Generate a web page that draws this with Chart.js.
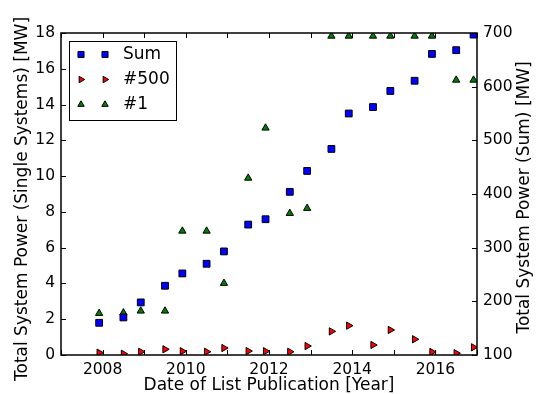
<!DOCTYPE html>
<html>
<head>
<meta charset="utf-8">
<script src="https://cdn.jsdelivr.net/npm/chart.js@4.4.0/dist/chart.umd.min.js"></script>
<style>
  body { margin: 0; background: #fff; }
  #wrap { width: 536px; height: 394px; }
</style>
</head>
<body>
<div id="wrap"><canvas id="powerChart" width="536" height="394"></canvas></div>
<script>
// ==========================================================================================================
// -- Data --
// ==========================================================================================================

// list dates: June = year + 0.5, November = year + 11/12
const listDates = [2007.917, 2008.5, 2008.917, 2009.5, 2009.917, 2010.5, 2010.917, 2011.5, 2011.917, 2012.5,
                   2012.917, 2013.5, 2013.917, 2014.5, 2014.917, 2015.5, 2015.917, 2016.5, 2016.917];
const sumPower = [160, 170, 198, 229, 252, 270, 293, 343, 353, 404, 443, 484, 550, 562, 592, 611, 661, 668, 697];
const rank500Power = [0.13, 0.07, 0.18, 0.32, 0.21, 0.18, 0.39, 0.22, 0.21, 0.18, 0.50, 1.32, 1.64, 0.56, 1.40, 0.88, 0.17, 0.10, 0.43];
const rank1Power = [2.33, 2.36, 2.46, 2.46, 6.93, 6.93, 4.01, 9.89, 12.69, 7.92, 8.20, 17.83, 17.83, 17.83, 17.83, 17.83, 17.83, 15.37, 15.37];

const yearLabels = [2008, 2010, 2012, 2014, 2016];
const leftTitle = 'Total System Power (Single Systems) [MW]';
const rightTitle = 'Total System Power (Sum) [MW]';
const xTitle = 'Date of List Publication [Year]';

const FONT = 'DejaVu Sans';
const TICK_SIZE = 15.5;
const TITLE_SIZE = 17;

// ==========================================================================================================
// -- Helpers --
// ==========================================================================================================

function toPoints(values) {
    return listDates.map((x, i) => ({ x: x, y: values[i] }));
}

// draw one marker for the legend (same look as the chart points)
function drawMarker(ctx, style, x, y, r, rotation) {
    ctx.beginPath();
    if (style === 'rect') {
        const s = r * Math.SQRT1_2;
        ctx.rect(x - s, y - s, 2 * s, 2 * s);
    } else {
        let rad = rotation * Math.PI / 180;
        ctx.moveTo(x + Math.sin(rad) * r, y - Math.cos(rad) * r);
        rad += 2 * Math.PI / 3;
        ctx.lineTo(x + Math.sin(rad) * r, y - Math.cos(rad) * r);
        rad += 2 * Math.PI / 3;
        ctx.lineTo(x + Math.sin(rad) * r, y - Math.cos(rad) * r);
        ctx.closePath();
    }
    ctx.fill();
    ctx.stroke();
}

// rotated (bottom-to-top) axis title
function drawVerticalTitle(ctx, text, x, y, size) {
    ctx.save();
    ctx.fillStyle = '#000';
    ctx.font = `${size}px "${FONT}"`;
    ctx.textAlign = 'center';
    ctx.textBaseline = 'middle';
    ctx.translate(x, y);
    ctx.rotate(-Math.PI / 2);
    ctx.fillText(text, 0, 0);
    ctx.restore();
}

// Frame, inward ticks, y titles, legend ---------------------------------------------------------
const axesDecor = {
    id: 'axesDecor',
    afterDatasetsDraw(chart) {
        const { ctx, chartArea: a, scales } = chart;
        const tick = 5;
        ctx.save();
        ctx.strokeStyle = '#000';
        ctx.lineWidth = 1;
        ctx.beginPath();
        scales.x.ticks.forEach(t => {
            const px = Math.round(scales.x.getPixelForValue(t.value)) + 0.5;
            ctx.moveTo(px, a.bottom); ctx.lineTo(px, a.bottom - tick);
            ctx.moveTo(px, a.top); ctx.lineTo(px, a.top + tick);
        });
        scales.yLeft.ticks.forEach(t => {
            const py = Math.round(scales.yLeft.getPixelForValue(t.value)) + 0.5;
            ctx.moveTo(a.left, py); ctx.lineTo(a.left + tick, py);
        });
        scales.yRight.ticks.forEach(t => {
            const py = Math.round(scales.yRight.getPixelForValue(t.value)) + 0.5;
            ctx.moveTo(a.right, py); ctx.lineTo(a.right - tick, py);
        });
        ctx.stroke();

        ctx.lineWidth = 1.5;
        ctx.strokeRect(a.left, a.top, a.right - a.left, a.bottom - a.top);
        ctx.restore();

        drawVerticalTitle(ctx, leftTitle, 22.5, 199, TITLE_SIZE);
        drawVerticalTitle(ctx, rightTitle, 525, 197.5, TITLE_SIZE);

        // legend
        ctx.save();
        ctx.fillStyle = '#fff';
        ctx.strokeStyle = '#000';
        ctx.lineWidth = 1;
        ctx.fillRect(69.5, 41.5, 107, 79);
        ctx.strokeRect(69.5, 41.5, 107, 79);
        ctx.font = `17px "${FONT}"`;
        ctx.textAlign = 'left';
        ctx.textBaseline = 'middle';
        chart.data.datasets.forEach((ds, i) => {
            const y = 54.5 + i * 25;
            ctx.fillStyle = ds.backgroundColor;
            ctx.strokeStyle = '#000';
            ctx.lineWidth = 1;
            [81, 105].forEach(x => drawMarker(ctx, ds.pointStyle, x, y, ds.pointRadius - 0.5, ds.pointRotation || 0));
            ctx.fillStyle = '#000';
            ctx.fillText(ds.label, 123, y);
        });
        ctx.restore();
    }
};

// ==========================================================================================================
// -- Chart --
// ==========================================================================================================

const ctx = document.getElementById('powerChart').getContext('2d');
new Chart(ctx, {
    type: 'scatter',
    data: {
        datasets: [
            {
                label: 'Sum',
                data: toPoints(sumPower),
                yAxisID: 'yRight',
                pointStyle: 'rect',
                pointRadius: 4.8,
                backgroundColor: '#0000ff',
                borderColor: '#000',
                borderWidth: 1,
            },
            {
                label: '#500',
                data: toPoints(rank500Power),
                yAxisID: 'yLeft',
                pointStyle: 'triangle',
                pointRotation: 90,
                pointRadius: 4.2,
                backgroundColor: '#ff0000',
                borderColor: '#000',
                borderWidth: 1,
            },
            {
                label: '#1',
                data: toPoints(rank1Power),
                yAxisID: 'yLeft',
                pointStyle: 'triangle',
                pointRadius: 4.2,
                backgroundColor: '#008000',
                borderColor: '#000',
                borderWidth: 1,
            },
        ],
    },
    options: {
        responsive: false,
        animation: false,
        layout: { padding: { top: 33, left: 0, right: 0, bottom: 0 } },
        plugins: {
            legend: { display: false },
            tooltip: { enabled: false },
        },
        scales: {
            x: {
                type: 'linear',
                min: 2007,
                max: 2017,
                afterFit: s => { s.height = 39; },
                grid: { display: false, drawTicks: false },
                border: { display: false },
                ticks: {
                    stepSize: 1,
                    autoSkip: false,
                    maxRotation: 0,
                    padding: 6,
                    color: '#000',
                    font: { family: FONT, size: TICK_SIZE },
                    callback: v => (yearLabels.includes(v) ? String(v) : ''),
                },
                title: {
                    display: true,
                    text: xTitle,
                    color: '#000',
                    font: { family: FONT, size: TITLE_SIZE, lineHeight: 1 },
                    padding: { top: 0, bottom: 0 },
                },
            },
            yLeft: {
                type: 'linear',
                position: 'left',
                min: 0,
                max: 18,
                afterFit: s => { s.width = 61; },
                grid: { display: false, drawTicks: false },
                border: { display: false },
                ticks: {
                    stepSize: 2,
                    padding: 6,
                    color: '#000',
                    font: { family: FONT, size: TICK_SIZE },
                },
            },
            yRight: {
                type: 'linear',
                position: 'right',
                min: 100,
                max: 700,
                afterFit: s => { s.width = 59; },
                grid: { display: false, drawTicks: false },
                border: { display: false },
                ticks: {
                    stepSize: 100,
                    padding: 6,
                    color: '#000',
                    font: { family: FONT, size: TICK_SIZE },
                },
            },
        },
    },
    plugins: [axesDecor],
});
</script>
</body>
</html>
